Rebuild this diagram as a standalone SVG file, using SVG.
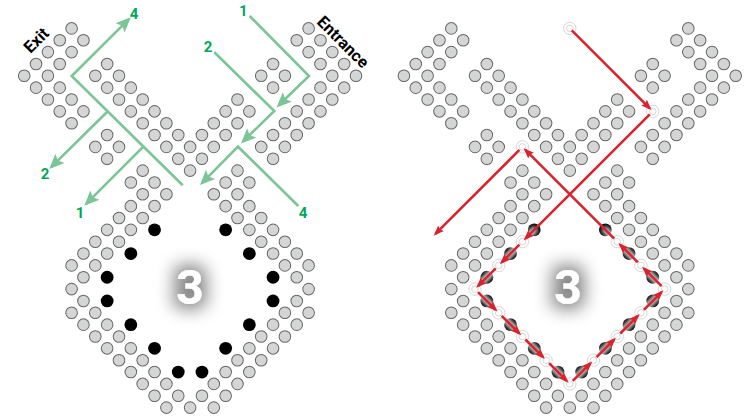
<svg xmlns="http://www.w3.org/2000/svg" width="747" height="418" viewBox="0 0 747 418">
<style>
.d{fill:#d4d6d5;stroke:#676767;stroke-width:.085}
.b{fill:#000}
.g{fill:none;stroke:#7bc596;stroke-width:2.6;marker-end:url(#ga)}
.r{fill:none;stroke:#d9232e;stroke-width:2.6;marker-end:url(#ra)}
.n{font:700 15px Roboto,"Liberation Sans",sans-serif;fill:#00a85a;text-anchor:middle}
.t{font:700 16.5px Roboto,"Liberation Sans",sans-serif;fill:#000;text-anchor:middle}
.big{font:700 48px Roboto,"Liberation Sans",sans-serif;fill:#fff;text-anchor:middle;filter:url(#glow)}
.o{fill:#fff;stroke:#d6d6d6;stroke-width:1}
.i{fill:none;stroke:#d6d6d6;stroke-width:1}
</style>
<defs>
<marker id="ga" markerUnits="userSpaceOnUse" markerWidth="18" markerHeight="16" refX="12" refY="8" orient="auto"><path d="M0,1.5L15,8L0,14.5L3,8z" fill="#7bc596"/></marker>
<marker id="ra" markerUnits="userSpaceOnUse" markerWidth="13" markerHeight="12" refX="8" refY="6" orient="auto"><path d="M0,2L10.5,6L0,10L1.5,6z" fill="#d9232e"/></marker>
<filter id="glow" filterUnits="userSpaceOnUse" x="100" y="210" width="560" height="160">
<feMorphology in="SourceAlpha" operator="dilate" radius="5"/>
<feGaussianBlur stdDeviation="8.5" result="b"/>
<feFlood flood-color="#000" flood-opacity=".48"/>
<feComposite in2="b" operator="in"/>
<feMerge><feMergeNode/><feMergeNode in="SourceGraphic"/></feMerge>
</filter>
<filter id="soft" filterUnits="userSpaceOnUse" x="440" y="200" width="260" height="210"><feGaussianBlur stdDeviation="2"/></filter>
<g id="dots" transform="translate(24.2 28.4) scale(11.85)">
<g id="exit-block">
<circle class="d" r=".49" cx="4" cy="0"/><circle class="d" r=".49" cx="3" cy="1"/><circle class="d" r=".49" cx="5" cy="1"/><circle class="d" r=".49" cx="2" cy="2"/><circle class="d" r=".49" cx="4" cy="2"/><circle class="d" r=".49" cx="1" cy="3"/><circle class="d" r=".49" cx="3" cy="3"/><circle class="d" r=".49" cx="0" cy="4"/><circle class="d" r=".49" cx="2" cy="4"/><circle class="d" r=".49" cx="1" cy="5"/><circle class="d" r=".49" cx="3" cy="5"/><circle class="d" r=".49" cx="2" cy="6"/><circle class="d" r=".49" cx="4" cy="6"/><circle class="d" r=".49" cx="3" cy="7"/><circle class="d" r=".49" cx="5" cy="7"/><circle class="d" r=".49" cx="4" cy="8"/>
</g>
<g id="x-bands">
<circle class="d" r=".49" cx="7" cy="3"/><circle class="d" r=".49" cx="6" cy="4"/><circle class="d" r=".49" cx="8" cy="4"/><circle class="d" r=".49" cx="7" cy="5"/><circle class="d" r=".49" cx="9" cy="5"/><circle class="d" r=".49" cx="8" cy="6"/><circle class="d" r=".49" cx="10" cy="6"/><circle class="d" r=".49" cx="18" cy="6"/><circle class="d" r=".49" cx="9" cy="7"/><circle class="d" r=".49" cx="11" cy="7"/><circle class="d" r=".49" cx="17" cy="7"/><circle class="d" r=".49" cx="19" cy="7"/><circle class="d" r=".49" cx="10" cy="8"/><circle class="d" r=".49" cx="12" cy="8"/><circle class="d" r=".49" cx="16" cy="8"/><circle class="d" r=".49" cx="18" cy="8"/><circle class="d" r=".49" cx="11" cy="9"/><circle class="d" r=".49" cx="13" cy="9"/><circle class="d" r=".49" cx="15" cy="9"/><circle class="d" r=".49" cx="17" cy="9"/><circle class="d" r=".49" cx="12" cy="10"/><circle class="d" r=".49" cx="14" cy="10"/><circle class="d" r=".49" cx="16" cy="10"/><circle class="d" r=".49" cx="13" cy="11"/><circle class="d" r=".49" cx="15" cy="11"/><circle class="d" r=".49" cx="14" cy="12"/>
</g>
<g id="small-blocks">
<circle class="d" r=".49" cx="7" cy="9"/><circle class="d" r=".49" cx="6" cy="10"/><circle class="d" r=".49" cx="8" cy="10"/><circle class="d" r=".49" cx="7" cy="11"/><circle class="d" r=".49" cx="21" cy="3"/><circle class="d" r=".49" cx="20" cy="4"/><circle class="d" r=".49" cx="22" cy="4"/><circle class="d" r=".49" cx="21" cy="5"/>
</g>
<g id="entrance-block">
<circle class="d" r=".49" cx="24" cy="0"/><circle class="d" r=".49" cx="23" cy="1"/><circle class="d" r=".49" cx="25" cy="1"/><circle class="d" r=".49" cx="24" cy="2"/><circle class="d" r=".49" cx="26" cy="2"/><circle class="d" r=".49" cx="25" cy="3"/><circle class="d" r=".49" cx="27" cy="3"/><circle class="d" r=".49" cx="26" cy="4"/><circle class="d" r=".49" cx="28" cy="4"/><circle class="d" r=".49" cx="25" cy="5"/><circle class="d" r=".49" cx="27" cy="5"/><circle class="d" r=".49" cx="24" cy="6"/><circle class="d" r=".49" cx="26" cy="6"/><circle class="d" r=".49" cx="23" cy="7"/><circle class="d" r=".49" cx="25" cy="7"/><circle class="d" r=".49" cx="22" cy="8"/><circle class="d" r=".49" cx="24" cy="8"/><circle class="d" r=".49" cx="21" cy="9"/><circle class="d" r=".49" cx="23" cy="9"/><circle class="d" r=".49" cx="20" cy="10"/><circle class="d" r=".49" cx="22" cy="10"/><circle class="d" r=".49" cx="21" cy="11"/>
</g>
<g id="roundabout">
<circle class="d" r=".49" cx="10" cy="12"/><circle class="d" r=".49" cx="18" cy="12"/>
<circle class="d" r=".49" cx="9" cy="13"/><circle class="d" r=".49" cx="11" cy="13"/><circle class="d" r=".49" cx="17" cy="13"/><circle class="d" r=".49" cx="19" cy="13"/>
<circle class="d" r=".49" cx="10" cy="14"/><circle class="d" r=".49" cx="12" cy="14"/><circle class="d" r=".49" cx="16" cy="14"/><circle class="d" r=".49" cx="18" cy="14"/>
<circle class="d" r=".49" cx="9" cy="15"/><circle class="d" r=".49" cx="11" cy="15"/><circle class="d" r=".49" cx="17" cy="15"/><circle class="d" r=".49" cx="19" cy="15"/>
<circle class="d" r=".49" cx="8" cy="16"/><circle class="d" r=".49" cx="10" cy="16"/><circle class="d" r=".49" cx="18" cy="16"/><circle class="d" r=".49" cx="20" cy="16"/>
<circle class="d" r=".49" cx="7" cy="17"/><circle class="d" r=".49" cx="9" cy="17"/><circle class="d" r=".49" cx="19" cy="17"/><circle class="d" r=".49" cx="21" cy="17"/>
<circle class="d" r=".49" cx="6" cy="18"/><circle class="d" r=".49" cx="8" cy="18"/><circle class="d" r=".49" cx="20" cy="18"/><circle class="d" r=".49" cx="22" cy="18"/>
<circle class="d" r=".49" cx="5" cy="19"/><circle class="d" r=".49" cx="7" cy="19"/><circle class="d" r=".49" cx="21" cy="19"/><circle class="d" r=".49" cx="23" cy="19"/>
<circle class="d" r=".49" cx="4" cy="20"/><circle class="d" r=".49" cx="6" cy="20"/><circle class="d" r=".49" cx="22" cy="20"/><circle class="d" r=".49" cx="24" cy="20"/>
<circle class="d" r=".49" cx="5" cy="21"/><circle class="d" r=".49" cx="23" cy="21"/>
<circle class="d" r=".49" cx="4" cy="22"/><circle class="d" r=".49" cx="24" cy="22"/>
<circle class="d" r=".49" cx="5" cy="23"/><circle class="d" r=".49" cx="23" cy="23"/>
<circle class="d" r=".49" cx="4" cy="24"/><circle class="d" r=".49" cx="6" cy="24"/><circle class="d" r=".49" cx="22" cy="24"/><circle class="d" r=".49" cx="24" cy="24"/>
<circle class="d" r=".49" cx="5" cy="25"/><circle class="d" r=".49" cx="7" cy="25"/><circle class="d" r=".49" cx="21" cy="25"/><circle class="d" r=".49" cx="23" cy="25"/>
<circle class="d" r=".49" cx="6" cy="26"/><circle class="d" r=".49" cx="8" cy="26"/><circle class="d" r=".49" cx="20" cy="26"/><circle class="d" r=".49" cx="22" cy="26"/>
<circle class="d" r=".49" cx="7" cy="27"/><circle class="d" r=".49" cx="9" cy="27"/><circle class="d" r=".49" cx="19" cy="27"/><circle class="d" r=".49" cx="21" cy="27"/>
<circle class="d" r=".49" cx="8" cy="28"/><circle class="d" r=".49" cx="10" cy="28"/><circle class="d" r=".49" cx="18" cy="28"/><circle class="d" r=".49" cx="20" cy="28"/>
<circle class="d" r=".49" cx="9" cy="29"/><circle class="d" r=".49" cx="11" cy="29"/><circle class="d" r=".49" cx="17" cy="29"/><circle class="d" r=".49" cx="19" cy="29"/>
<circle class="d" r=".49" cx="10" cy="30"/><circle class="d" r=".49" cx="12" cy="30"/><circle class="d" r=".49" cx="16" cy="30"/><circle class="d" r=".49" cx="18" cy="30"/>
<circle class="d" r=".49" cx="11" cy="31"/><circle class="d" r=".49" cx="13" cy="31"/><circle class="d" r=".49" cx="15" cy="31"/><circle class="d" r=".49" cx="17" cy="31"/>
<circle class="d" r=".49" cx="12" cy="32"/><circle class="d" r=".49" cx="14" cy="32"/><circle class="d" r=".49" cx="16" cy="32"/>
</g>
<g id="black-dots">
<circle class="b" r=".54" cx="11" cy="17"/><circle class="b" r=".54" cx="17" cy="17"/><circle class="b" r=".54" cx="9" cy="19"/><circle class="b" r=".54" cx="19" cy="19"/><circle class="b" r=".54" cx="7" cy="21"/><circle class="b" r=".54" cx="21" cy="21"/><circle class="b" r=".54" cx="7" cy="23"/><circle class="b" r=".54" cx="21" cy="23"/><circle class="b" r=".54" cx="9" cy="25"/><circle class="b" r=".54" cx="19" cy="25"/><circle class="b" r=".54" cx="11" cy="27"/><circle class="b" r=".54" cx="17" cy="27"/><circle class="b" r=".54" cx="13" cy="29"/><circle class="b" r=".54" cx="15" cy="29"/>
</g>
</g>
<g id="ring"><circle class="o" r="6.2"/><circle class="i" r="3.3"/></g>
</defs>

<g id="left-panel">
<use href="#dots"/>
<g id="left-connectors">
<polyline class="g" points="182.7,185.3 71.7,76 128.6,19.4"/>
<polyline class="g" points="107.3,111.7 51.4,166.9"/>
<polyline class="g" points="143.3,146.7 86.4,203.6"/>
<polyline class="g" points="249.7,16 309,76 278.7,105.3"/>
<polyline class="g" points="214.3,52.3 274.3,111 243.1,141.3"/>
<polyline class="g" points="298.3,206 238,146.7 202.1,182.9"/>
</g>
<text class="n" x="134" y="18.8">4</text>
<text class="n" x="45" y="178.5">2</text>
<text class="n" x="80" y="217.5">1</text>
<text class="n" x="243.3" y="15.8">1</text>
<text class="n" x="208" y="52">2</text>
<text class="n" x="303" y="217.5">4</text>
<text class="t" transform="translate(36 40) rotate(-45)" y="6">Exit</text>
<text class="t" transform="translate(343.3 41.7) rotate(45)" y="6">Entrance</text>
<text class="big" x="190" y="304">3</text>
</g>

<g id="right-panel">
<use href="#dots" transform="translate(379.7 0)"/>
<path d="M536,228.1L475,289.1L569.8,383.9L664.6,289.1L603.6,228.1" fill="none" stroke="#fff" stroke-width="7" opacity=".85" filter="url(#soft)"/>
<g id="rings">
<use href="#ring" x="569.8" y="28.4"/><use href="#ring" x="652.75" y="111.35"/><use href="#ring" x="522.4" y="146.9"/><use href="#ring" x="522.4" y="241.7"/><use href="#ring" x="498.7" y="265.4"/><use href="#ring" x="475" y="289.1"/><use href="#ring" x="498.7" y="312.8"/><use href="#ring" x="522.4" y="336.5"/><use href="#ring" x="546.1" y="360.2"/><use href="#ring" x="569.8" y="383.9"/><use href="#ring" x="593.5" y="360.2"/><use href="#ring" x="617.2" y="336.5"/><use href="#ring" x="640.9" y="312.8"/><use href="#ring" x="664.6" y="289.1"/><use href="#ring" x="640.9" y="265.4"/><use href="#ring" x="617.2" y="241.7"/>
</g>
<g id="right-connectors">
<line class="r" x1="571.8" y1="30.4" x2="649.75" y2="108.35"/>
<line class="r" x1="649.75" y1="114.35" x2="525.4" y2="238.7"/>
<line class="r" x1="519.4" y1="244.7" x2="501.7" y2="262.4"/>
<line class="r" x1="495.7" y1="268.4" x2="478" y2="286.1"/>
<line class="r" x1="478" y1="292.1" x2="495.7" y2="309.8"/>
<line class="r" x1="501.7" y1="315.8" x2="519.4" y2="333.5"/>
<line class="r" x1="525.4" y1="339.5" x2="543.1" y2="357.2"/>
<line class="r" x1="549.1" y1="363.2" x2="566.8" y2="380.9"/>
<line class="r" x1="572.8" y1="380.9" x2="590.5" y2="363.2"/>
<line class="r" x1="596.5" y1="357.2" x2="614.2" y2="339.5"/>
<line class="r" x1="620.2" y1="333.5" x2="637.9" y2="315.8"/>
<line class="r" x1="643.9" y1="309.8" x2="661.6" y2="292.1"/>
<line class="r" x1="661.6" y1="286.1" x2="643.9" y2="268.4"/>
<line class="r" x1="637.9" y1="262.4" x2="620.2" y2="244.7"/>
<line class="r" x1="614.2" y1="238.7" x2="525.4" y2="149.9"/>
<line class="r" x1="519.4" y1="149.9" x2="435.4" y2="233.9"/>
</g>
<text class="big" x="568" y="304">3</text>
</g>
</svg>
